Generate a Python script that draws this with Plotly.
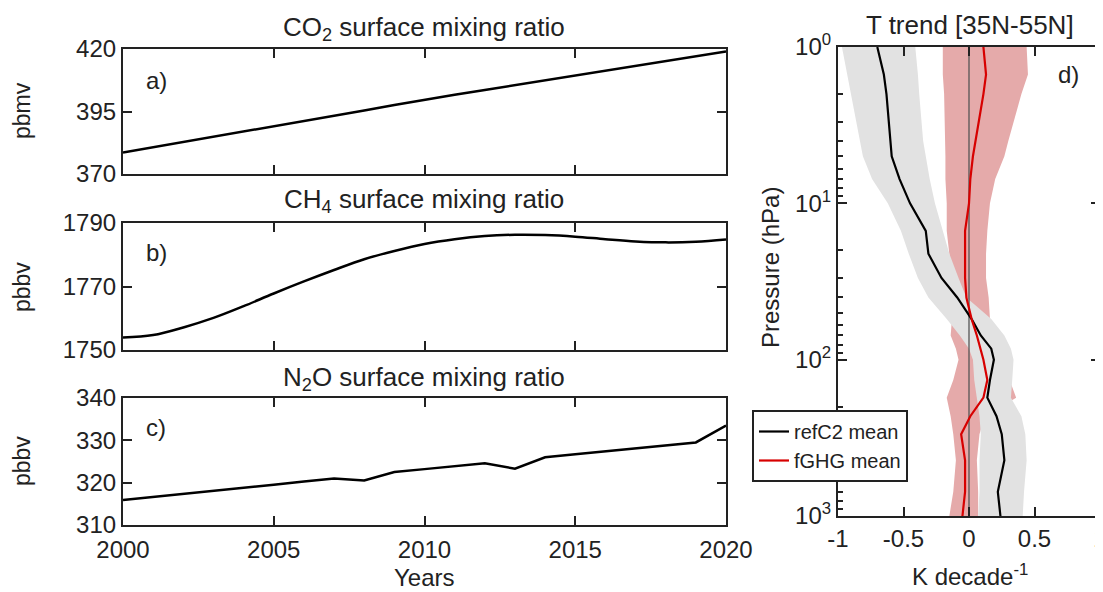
import plotly.graph_objects as go

# ---- data ----
years = list(range(2000, 2021))

co2 = [378.6, 380.7, 382.7, 384.8, 386.8, 388.8, 391.0, 393.2, 395.4, 397.6, 399.8,
       401.7, 403.6, 405.5, 407.4, 409.3, 411.3, 413.2, 415.1, 417.0, 419.0]

ch4 = [1753.9, 1754.7, 1757.1, 1760.1, 1763.8, 1767.8, 1771.6, 1775.2, 1778.6, 1781.2, 1783.4,
       1784.9, 1785.9, 1786.3, 1786.2, 1785.7, 1784.9, 1784.2, 1783.9, 1784.1, 1784.8]

n2o = [315.9, 316.6, 317.4, 318.1, 318.8, 319.5, 320.3, 321.0, 320.5, 322.5, 323.2,
       323.9, 324.6, 323.3, 326.0, 326.7, 327.4, 328.1, 328.8, 329.5, 333.5]

# pressure levels (hPa) for the temperature trend profiles
pres = [1, 1.5, 2, 4, 5, 7, 10, 15, 21, 30, 40, 55, 70, 85, 100, 135, 175, 230, 300, 440, 700, 1000]

refc2_mean = [-0.70, -0.65, -0.63, -0.60, -0.59, -0.53, -0.45, -0.33, -0.31, -0.21, -0.09, 0.02, 0.09,
              0.17, 0.19, 0.16, 0.14, 0.21, 0.25, 0.27, 0.22, 0.24]
refc2_lo = [-0.97, -0.93, -0.90, -0.83, -0.81, -0.74, -0.62, -0.52, -0.46, -0.39, -0.31, -0.17, -0.07,
            0.00, 0.03, 0.04, 0.06, 0.08, 0.09, 0.08, 0.08, 0.07]
refc2_hi = [-0.41, -0.39, -0.38, -0.35, -0.33, -0.30, -0.26, -0.20, -0.15, -0.08, -0.02, 0.17, 0.27,
            0.32, 0.34, 0.33, 0.32, 0.40, 0.43, 0.44, 0.42, 0.41]

fghg_mean = [0.11, 0.13, 0.11, 0.05, 0.03, 0.01, 0.00, -0.03, -0.03, -0.03, -0.02, 0.02, 0.06,
             0.09, 0.11, 0.14, 0.11, 0.01, -0.06, -0.03, -0.03, -0.05]
fghg_lo = [-0.20, -0.20, -0.19, -0.18, -0.18, -0.18, -0.17, -0.17, -0.15, -0.13, -0.10, -0.13, -0.14,
           -0.10, -0.08, -0.12, -0.17, -0.14, -0.12, -0.10, -0.12, -0.15]
fghg_hi = [0.44, 0.45, 0.40, 0.30, 0.27, 0.20, 0.16, 0.14, 0.13, 0.13, 0.15, 0.16, 0.16,
           0.15, 0.18, 0.31, 0.36, 0.12, 0.08, 0.06, 0.07, 0.07]

FONT = "Liberation Sans, Arial, Helvetica, sans-serif"
TXT = "#222222"
OFF = 8  # the page body adds an 8 px margin around the figure
W, H = 1103 - OFF, 592 - OFF

fig = go.Figure()

# left column: greenhouse gas time series
fig.add_trace(go.Scatter(x=years, y=co2, mode="lines", line=dict(color="black", width=2.5),
                         showlegend=False, xaxis="x", yaxis="y"))
fig.add_trace(go.Scatter(x=years, y=ch4, mode="lines", line=dict(color="black", width=2.5, shape="spline"),
                         showlegend=False, xaxis="x2", yaxis="y2"))
fig.add_trace(go.Scatter(x=years, y=n2o, mode="lines", line=dict(color="black", width=2.5),
                         showlegend=False, xaxis="x3", yaxis="y3"))

# right panel: spread bands (grey drawn over pink), zero line, means
fig.add_trace(go.Scatter(x=fghg_lo + fghg_hi[::-1], y=pres + pres[::-1], fill="toself",
                         fillcolor="rgb(229,170,170)", line=dict(width=0), mode="lines",
                         showlegend=False, hoverinfo="skip", xaxis="x4", yaxis="y4"))
fig.add_trace(go.Scatter(x=refc2_lo + refc2_hi[::-1], y=pres + pres[::-1], fill="toself",
                         fillcolor="rgb(226,226,226)", line=dict(width=0), mode="lines",
                         showlegend=False, hoverinfo="skip", xaxis="x4", yaxis="y4"))
fig.add_trace(go.Scatter(x=[0, 0], y=[1, 1000], mode="lines", line=dict(color="#555555", width=1.3),
                         showlegend=False, hoverinfo="skip", xaxis="x4", yaxis="y4"))
fig.add_trace(go.Scatter(x=refc2_mean, y=pres, mode="lines", name="refC2 mean",
                         line=dict(color="black", width=2.2), xaxis="x4", yaxis="y4"))
fig.add_trace(go.Scatter(x=fghg_mean, y=pres, mode="lines", name="fGHG mean",
                         line=dict(color="rgb(215,0,0)", width=2.2), xaxis="x4", yaxis="y4"))

# screen pixel positions -> paper fractions
def px_x(v):
    return (v - OFF) / W

def px_y(v):
    return 1 - (v - OFF) / H

axis_common = dict(showline=True, linecolor="#222222", linewidth=2.2, mirror="ticks",
                   ticks="inside", ticklen=9, tickwidth=2, tickcolor="#222222",
                   showgrid=False, zeroline=False, automargin=False,
                   tickfont=dict(family=FONT, size=24, color=TXT))

left_dom = [px_x(123), px_x(726)]
xticks = [2000, 2005, 2010, 2015, 2020]

minor_p = [2, 3, 4, 5, 6, 7, 8, 9, 20, 30, 40, 50, 60, 70, 80, 90, 200, 300, 400, 500, 600, 700, 800, 900]

fig.update_layout(
    width=W, height=H,
    paper_bgcolor="white", plot_bgcolor="white",
    margin=dict(l=0, r=0, t=0, b=0, autoexpand=False),
    font=dict(family=FONT, color=TXT),
    xaxis=dict(axis_common, domain=left_dom, anchor="y", range=[2000, 2020],
               tickvals=xticks, showticklabels=False),
    yaxis=dict(axis_common, domain=[px_y(174), px_y(49)], anchor="x", range=[370, 420],
               tickvals=[370, 395, 420]),
    xaxis2=dict(axis_common, domain=left_dom, anchor="y2", range=[2000, 2020],
                tickvals=xticks, showticklabels=False),
    yaxis2=dict(axis_common, domain=[px_y(350), px_y(223)], anchor="x2", range=[1750, 1790],
                tickvals=[1750, 1770, 1790]),
    xaxis3=dict(axis_common, domain=left_dom, anchor="y3", range=[2000, 2020],
                tickvals=xticks, ticklabelstandoff=2),
    yaxis3=dict(axis_common, domain=[px_y(525), px_y(398)], anchor="x3", range=[310, 340],
                tickvals=[310, 320, 330, 340]),
    xaxis4=dict(axis_common, domain=[px_x(838), px_x(1100)], anchor="y4", range=[-1, 1],
                tickvals=[-1, -0.5, 0, 0.5, 1], ticktext=["-1", "-0.5", "0", "0.5", "1"],
                ticklabeloverflow="allow"),
    yaxis4=dict(axis_common, domain=[px_y(516), px_y(47)], anchor="x4", type="log", range=[3, 0],
                tickvals=[1, 10, 100, 1000],
                ticktext=["10<sup>0</sup>", "10<sup>1</sup>", "10<sup>2</sup>", "10<sup>3</sup>"],
                minor=dict(tickvals=minor_p, ticks="inside", ticklen=5, tickwidth=1.5,
                           tickcolor="#222222", showgrid=False)),
    legend=dict(x=px_x(752), y=px_y(410), xanchor="left", yanchor="top",
                bgcolor="white", bordercolor="#222222", borderwidth=2,
                font=dict(family=FONT, size=20, color=TXT),
                itemwidth=30, tracegroupgap=0),
)

ann = []
def text(x, y, s, size=24, angle=0):
    ann.append(dict(x=px_x(x), y=px_y(y), xref="paper", yref="paper", text=s, showarrow=False,
                    xanchor="center", yanchor="middle", textangle=angle,
                    font=dict(family=FONT, size=size, color=TXT)))

text(424, 28, "CO<sub>2</sub> surface mixing ratio", 26)
text(424, 200, "CH<sub>4</sub> surface mixing ratio", 26)
text(424, 378, "N<sub>2</sub>O surface mixing ratio", 26)
text(424, 577, "Years", 24)
text(22, 111, "pbmv", 23, -90)
text(22, 287, "pbbv", 23, -90)
text(22, 461, "pbbv", 23, -90)
text(156, 80, "a)", 24)
text(156, 252, "b)", 24)
text(156, 427, "c)", 24)
text(970, 25, "T trend [35N-55N]", 26)
text(970, 575, "K decade<sup>-1</sup>", 24)
text(770, 268, "Pressure (hPa)", 24, -90)
text(1068, 75, "d)", 24)
fig.update_layout(annotations=ann)

fig.write_html("out.html")
